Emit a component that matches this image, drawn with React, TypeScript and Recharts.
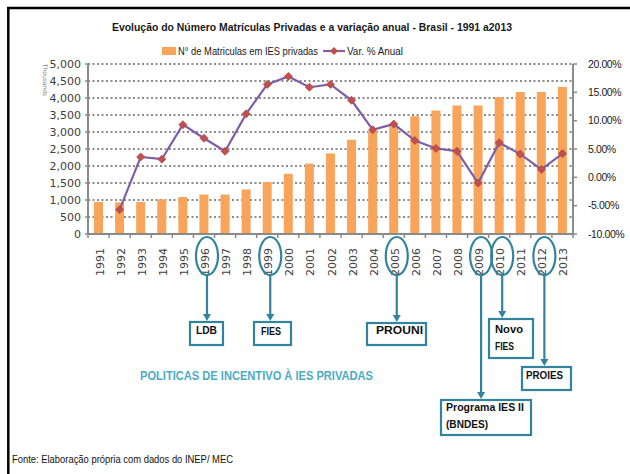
import { ComposedChart, Bar, Line, XAxis, YAxis, CartesianGrid } from 'recharts'

const years = ['1991', '1992', '1993', '1994', '1995', '1996', '1997', '1998', '1999', '2000', '2001', '2002',
    '2003', '2004', '2005', '2006', '2007', '2008', '2009', '2010', '2011', '2012', '2013']

// matrículas em IES privadas (milhares)
const matriculas = [940, 930, 940, 1020, 1090, 1160, 1160, 1310, 1530, 1770, 2070, 2370,
    2770, 3020, 3170, 3460, 3630, 3780, 3780, 4020, 4180, 4180, 4320]

// variação % anual
const variacao: (number | null)[] = [null, -5.7, 3.6, 3.2, 9.3, 6.9, 4.6, 11.2, 16.4, 17.8, 15.9, 16.4,
    13.6, 8.4, 9.4, 6.5, 5.1, 4.6, -1.0, 6.1, 4.1, 1.4, 4.2]

const leftTicks = [0, 500, 1000, 1500, 2000, 2500, 3000, 3500, 4000, 4500, 5000]
const rightTicks = [-10, -5, 0, 5, 10, 15, 20]

// policy annotations: year, box label lines
const politicas = [
    { year: '1996', lines: ['LDB'] },
    { year: '1999', lines: ['FIES'] },
    { year: '2005', lines: ['PROUNI'] },
    { year: '2009', lines: ['Programa IES II', '(BNDES)'] },
    { year: '2010', lines: ['Novo', 'FIES'] },
    { year: '2012', lines: ['PROIES'] },
]

const data = years.map((year, i) => ({ year, matriculas: matriculas[i], variacao: variacao[i] }))

const W = 630
const H = 474
const PLOT_LEFT = 88
const PLOT_RIGHT = 573
const PLOT_TOP = 64
const PLOT_BOTTOM = 234
const AXIS_W = 50
const X_AXIS_H = 40

const TEAL = '#31849B'
const AXIS = '#8a8a8a'
const NARROW = "'Liberation Sans Narrow', 'Liberation Sans', Arial, sans-serif"

const bw = (PLOT_RIGHT - PLOT_LEFT) / years.length
const catX = (year: string) => PLOT_LEFT + (years.indexOf(year) + 0.5) * bw + 3

// box geometry per policy (x, y, w, h, text baselines)
const boxes: Record<string, { x: number; y: number; w: number; h: number; tx: number; base: number[]; tl: number[] }> = {
    '1996': { x: 190, y: 322, w: 33, h: 23, tx: 196, base: [334], tl: [21] },
    '1999': { x: 254, y: 322, w: 37, h: 23, tx: 261, base: [335], tl: [20] },
    '2005': { x: 367, y: 323, w: 59, h: 22, tx: 376, base: [334], tl: [47] },
    '2009': { x: 441, y: 400, w: 90, h: 35, tx: 446, base: [411, 428], tl: [78, 42] },
    '2010': { x: 489, y: 319, w: 44, h: 39, tx: 495, base: [333, 350], tl: [28, 19] },
    '2012': { x: 522, y: 367, w: 49, h: 23, tx: 526, base: [379], tl: [37] },
}

function Diamond(props: any) {
    const { cx, cy, value } = props
    if (value === null || value === undefined || cx == null || cy == null) return <g />
    const r = 4
    return (
        <polygon
            points={`${cx},${cy - r} ${cx + r},${cy} ${cx},${cy + r} ${cx - r},${cy}`}
            fill="#C0504D"
            stroke="#B5443F"
            strokeWidth={0.8}
        />
    )
}

function YearTick(props: any) {
    const { x, y, payload } = props
    return (
        <g transform={`translate(${x + 1},${y})`}>
            <text
                transform="rotate(-90)"
                x={-6}
                y={0}
                dy={4}
                textAnchor="end"
                fontSize={11}
                fontFamily="'DejaVu Sans', Verdana, sans-serif"
                fill="#404040"
            >
                {payload.value}
            </text>
        </g>
    )
}

function Overlay() {
    return (
        <svg width={W} height={H} style={{ position: 'absolute', left: 0, top: 0, pointerEvents: 'none' }}>
            {/* frame */}
            <line x1={7} y1={8} x2={W} y2={8} stroke="#000" strokeWidth={2.5} />
            <line x1={8.3} y1={7} x2={8.3} y2={H} stroke="#000" strokeWidth={2.5} />

            {/* title */}
            <text x={112} y={31} fontFamily={NARROW} fontWeight="bold" fontSize={11.5} fill="#1a1a1a"
                textLength={400} lengthAdjust="spacingAndGlyphs">
                Evolução do Número Matrículas Privadas e a variação anual - Brasil - 1991 a2013
            </text>

            {/* legend */}
            <rect x={162} y={47} width={14} height={8} fill="#F8A55B" />
            <text x={178} y={55} fontFamily={NARROW} fontSize={11} fill="#1a1a1a"
                textLength={140} lengthAdjust="spacingAndGlyphs">
                N° de Matriculas em IES privadas
            </text>
            <line x1={323} y1={51} x2={345} y2={51} stroke="#7F5FA8" strokeWidth={2.2} />
            <polygon points="334,47 338,51 334,55 330,51" fill="#C0504D" />
            <text x={347} y={55} fontFamily={NARROW} fontSize={11} fill="#1a1a1a"
                textLength={56} lengthAdjust="spacingAndGlyphs">
                Var. % Anual
            </text>

            {/* left axis unit label */}
            <text transform="translate(43,80) rotate(90)" textAnchor="middle" fontSize={6}
                fontFamily="'DejaVu Sans', sans-serif" fill="#888">
                Thousands
            </text>

            {/* category boundary ticks */}
            {years.concat(['end']).map((_, i) => (
                <line key={i} x1={PLOT_LEFT + i * bw} y1={PLOT_BOTTOM} x2={PLOT_LEFT + i * bw} y2={PLOT_BOTTOM + 4}
                    stroke={AXIS} strokeWidth={1.5} />
            ))}

            {/* policy annotations */}
            {politicas.map((p) => {
                const cx = catX(p.year)
                const b = boxes[p.year]
                const tipY = b.y - 1
                return (
                    <g key={p.year}>
                        <ellipse cx={cx} cy={256} rx={11} ry={19} fill="none" stroke={TEAL} strokeWidth={2.2} />
                        <line x1={cx} y1={275} x2={cx} y2={tipY - 6} stroke={TEAL} strokeWidth={2.2} />
                        <polygon points={`${cx - 4},${tipY - 7} ${cx + 4},${tipY - 7} ${cx},${tipY}`} fill={TEAL} />
                        <rect x={b.x} y={b.y} width={b.w} height={b.h} fill="#fff" stroke={TEAL} strokeWidth={2.2} />
                        {p.lines.map((ln, j) => (
                            <text key={j} x={b.tx} y={b.base[j]} fontFamily={NARROW} fontWeight="bold"
                                fontSize={10.5} fill="#111" textLength={b.tl[j]} lengthAdjust="spacingAndGlyphs">
                                {ln}
                            </text>
                        ))}
                    </g>
                )
            })}

            <text x={140} y={380} fontFamily={NARROW} fontWeight="bold" fontSize={12.5} fill="#4BACC6"
                textLength={233} lengthAdjust="spacingAndGlyphs">
                POLITICAS DE INCENTIVO À IES PRIVADAS
            </text>

            {/* source */}
            <text x={12} y={463} fontFamily={NARROW} fontSize={10.5} fill="#111"
                textLength={221} lengthAdjust="spacingAndGlyphs">
                Fonte: Elaboração própria com dados do INEP/ MEC
            </text>
        </svg>
    )
}

export default function App() {
    return (
        <div style={{ position: 'absolute', left: 0, top: 0, width: W, height: H, background: '#fff' }}>
            <ComposedChart
                width={W}
                height={H}
                data={data}
                margin={{
                    top: PLOT_TOP,
                    right: W - PLOT_RIGHT - AXIS_W,
                    bottom: H - PLOT_BOTTOM - X_AXIS_H,
                    left: PLOT_LEFT - AXIS_W,
                }}
            >
                <CartesianGrid yAxisId="left" vertical={false} stroke="#8c8c8c" strokeDasharray="2 2.5" strokeWidth={2} />
                <XAxis
                    dataKey="year"
                    interval={0}
                    height={X_AXIS_H}
                    tick={<YearTick />}
                    tickLine={false}
                    axisLine={{ stroke: AXIS, strokeWidth: 2 }}
                />
                <YAxis
                    yAxisId="left"
                    width={AXIS_W}
                    domain={[0, 5000]}
                    ticks={leftTicks}
                    interval={0}
                    tickFormatter={(v: number) => v.toLocaleString('en-US')}
                    tick={{ fontSize: 11, fill: '#404040', fontFamily: "'DejaVu Sans', Verdana, sans-serif" }}
                    tickSize={3}
                    tickMargin={4}
                    tickLine={{ stroke: AXIS, strokeWidth: 1.5 }}
                    axisLine={{ stroke: AXIS, strokeWidth: 2 }}
                />
                <YAxis
                    yAxisId="right"
                    orientation="right"
                    width={AXIS_W}
                    domain={[-10, 20]}
                    ticks={rightTicks}
                    interval={0}
                    tickFormatter={(v: number) => v.toFixed(2) + '%'}
                    tick={{ fontSize: 10.5, fill: '#1a1a1a', fontFamily: "'Liberation Sans', Arial, sans-serif", letterSpacing: -0.4 }}
                    tickSize={4}
                    tickMargin={11}
                    tickLine={{ stroke: AXIS, strokeWidth: 1.5 }}
                    axisLine={{ stroke: AXIS, strokeWidth: 2 }}
                />
                <Bar
                    yAxisId="left"
                    dataKey="matriculas"
                    name="N° de Matriculas em IES privadas"
                    fill="#F8A55B"
                    barSize={9}
                    isAnimationActive={false}
                />
                <Line
                    yAxisId="right"
                    dataKey="variacao"
                    name="Var. % Anual"
                    stroke="#7F5FA8"
                    strokeWidth={2.2}
                    dot={<Diamond />}
                    activeDot={false}
                    connectNulls={false}
                    isAnimationActive={false}
                />
            </ComposedChart>
            <Overlay />
        </div>
    )
}
